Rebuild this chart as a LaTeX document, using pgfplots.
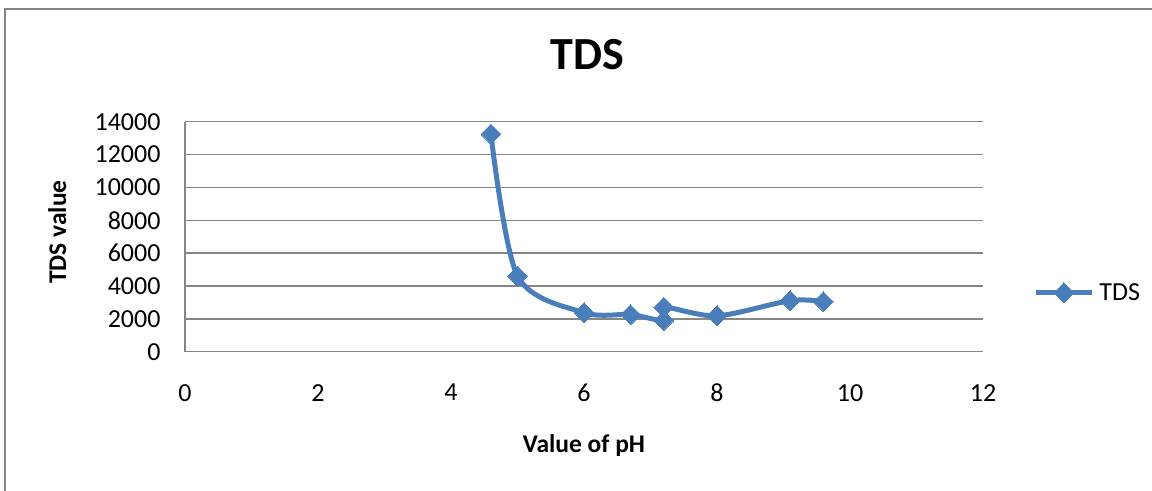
\documentclass[border=0pt]{standalone}
\usepackage{pgfplots}
\pgfplotsset{compat=1.18}
\usepackage{fontspec}
\setmainfont{Carlito}
\definecolor{xlblue}{RGB}{74,126,187}
\definecolor{xlgrid}{RGB}{134,134,134}
\begin{document}
\begin{tikzpicture}[x=1bp,y=1bp]
\useasboundingbox (0,0) rectangle (1152,491);
\draw[xlgrid, line width=2bp] (5,-5) -- (5,481.7) -- (1160,481.7);
\begin{axis}[
  at={(185bp,139.3bp)}, anchor=south west,
  scale only axis, width=798bp, height=230bp,
  xmin=0, xmax=12, ymin=0, ymax=14000,
  xtick={0,2,...,12}, ytick={0,2000,...,14000},
  scaled ticks=false,
  axis x line*=bottom, axis y line*=left,
  axis line style={xlgrid, line width=1.5bp},
  major tick length=0pt,
  ymajorgrids, grid style={xlgrid, line width=1.5bp},
  /pgf/number format/assume math mode=true,
  /pgf/number format/1000 sep={},
  ticklabel style={font=\fontsize{26bp}{28bp}\selectfont, text=black},
  yticklabel style={xshift=-21bp},
  xticklabel style={yshift=-29bp},
  title={TDS},
  title style={font=\fontsize{46bp}{50bp}\selectfont\bfseries, at={(axis description cs:0.504,1.203)}, anchor=base},
  xlabel={Value of pH},
  xlabel style={font=\fontsize{25.5bp}{28bp}\selectfont\bfseries, at={(axis description cs:0.5,-0.440)}, anchor=base},
  ylabel={TDS value},
  ylabel style={font=\fontsize{25.5bp}{28bp}\selectfont\bfseries, at={(axis description cs:-0.149,0.52)}, anchor=base},
  legend style={draw=none, fill=none, inner sep=0pt, nodes={inner sep=0pt}, column sep=5bp,
    at={(axis description cs:1.063,0.2565)}, anchor=west,
    font=\fontsize{26bp}{28bp}\selectfont},
  legend image code/.code={\draw[#1, mark repeat=2, mark phase=2] plot coordinates {(0bp,0bp) (28bp,0bp) (56bp,0bp)};},
]
\addplot[xlblue, line width=5bp, smooth, mark=square*, mark options={rotate=45, solid, line width=0pt, fill=xlblue}, mark size=7bp]
coordinates {(4.6,13250) (5.0,4600) (6.0,2380) (6.7,2260) (7.2,1900) (7.2,2710) (8.0,2180) (9.1,3110) (9.6,3050)};
\addlegendentry{TDS}
\end{axis}
\end{tikzpicture}
\end{document}
